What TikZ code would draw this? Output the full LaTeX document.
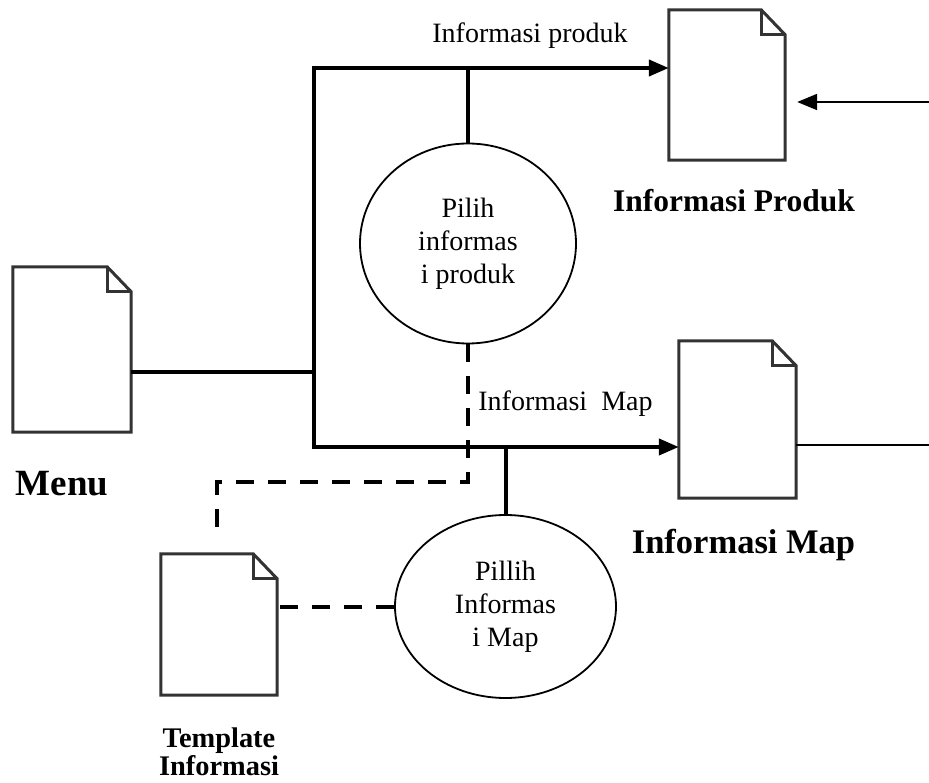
\documentclass[tikz,border=0pt]{standalone}
\usepackage{fontspec}
\setmainfont{Liberation Serif}
\usetikzlibrary{shapes.geometric,arrows.meta}
\begin{document}
\begin{tikzpicture}[x=1pt,y=-1pt,
	dokumen/.style={rectangle,inner sep=0pt},
	dokgaris/.style={draw=black!80,line width=3pt},
	proses/.style={ellipse,draw,line width=1.8pt,inner sep=0pt,align=center,font=\fontsize{28}{33}\selectfont},
	garis/.style={line width=4pt},
	putus/.style={line width=4pt,dash pattern=on 18pt off 14pt},
	tipis/.style={line width=2pt},
	panah/.style={-{Triangle[length=20pt,width=16pt]}},
	label/.style={font=\fontsize{28}{33}\selectfont,inner sep=0pt},
	judul/.style={font=\bfseries\fontsize{#1}{#1}\selectfont,inner sep=0pt}]
		\useasboundingbox (0,0) rectangle (929,783);
		
		\node[dokumen,minimum width=118pt,minimum height=165pt] (menu) at (72,349.5) {};
		\node[dokumen,minimum width=116pt,minimum height=150pt] (produk) at (727,85) {};
		\node[dokumen,minimum width=117pt,minimum height=157pt] (map) at (737.5,419.5) {};
		\node[dokumen,minimum width=116pt,minimum height=141pt] (template) at (219,624.5) {};
		
		\draw[dokgaris] (menu.north west) -- ([xshift=-24pt]menu.north east) -- ([yshift=-25pt]menu.north east) -- (menu.south east) -- (menu.south west) -- cycle;
		\draw[dokgaris] ([xshift=-24pt]menu.north east) |- ([yshift=-25pt]menu.north east);
		\draw[dokgaris] (produk.north west) -- ([xshift=-24pt]produk.north east) -- ([yshift=-25pt]produk.north east) -- (produk.south east) -- (produk.south west) -- cycle;
		\draw[dokgaris] ([xshift=-24pt]produk.north east) |- ([yshift=-25pt]produk.north east);
		\draw[dokgaris] (map.north west) -- ([xshift=-24pt]map.north east) -- ([yshift=-25pt]map.north east) -- (map.south east) -- (map.south west) -- cycle;
		\draw[dokgaris] ([xshift=-24pt]map.north east) |- ([yshift=-25pt]map.north east);
		\draw[dokgaris] (template.north west) -- ([xshift=-24pt]template.north east) -- ([yshift=-25pt]template.north east) -- (template.south east) -- (template.south west) -- cycle;
		\draw[dokgaris] ([xshift=-24pt]template.north east) |- ([yshift=-25pt]template.north east);
		
		\node[proses,minimum width=216pt,minimum height=200pt] (pilihproduk) at (468,243.5) {Pilih\\informas\\i produk};
		\node[proses,minimum width=221pt,minimum height=183pt] (pilihmap) at (505.5,606.5) {Pillih\\Informas\\i Map};
		
		\coordinate (atas) at (314,68);
		\coordinate (bawah) at (314,447);
		\coordinate (tengah) at (314,372);
		\coordinate (belok) at (217,482);
		\coordinate (ujung) at (217,539);
		\coordinate (kanan1) at (929,102);
		\coordinate (kanan2) at (929,445);
		
		\draw[garis] (menu.east |- tengah) -- (tengah);
		\draw[garis,panah] (bawah) -- (atas) -- (produk.west |- atas);
		\draw[garis,panah] (tengah) -- (bawah) -- (map.west |- bawah);
		\draw[garis] (pilihproduk.north) -- (pilihproduk.north |- atas);
		\draw[garis] (pilihmap.north) -- (pilihmap.north |- bawah);
		\draw[putus] (pilihproduk.south) |- (belok) -- (ujung);
		\draw[putus] (pilihmap.west) -- (pilihmap.west -| template.east);
		\draw[tipis,panah,shorten >=12pt] (kanan1) -- (kanan1 -| produk.east);
		\draw[tipis] (map.east |- kanan2) -- (kanan2);
		
		\node[label,anchor=base] (lblproduk) at (530,43) {Informasi produk};
		\node[label,anchor=base] (lblmap) at (565.5,410) {Informasi\ \ Map};
		\node[judul=31.5,anchor=base] (jdlproduk) at (734,212) {Informasi Produk};
		\node[judul=34.5,anchor=base] (jdlmap) at (743.5,553) {Informasi Map};
		\node[judul=37,anchor=base] (jdlmenu) at (62,495) {Menu};
		\node[judul=28.4,align=center] (jdltemplate) at (219,752) {Template\\Informasi};
	\end{tikzpicture}
\end{document}
